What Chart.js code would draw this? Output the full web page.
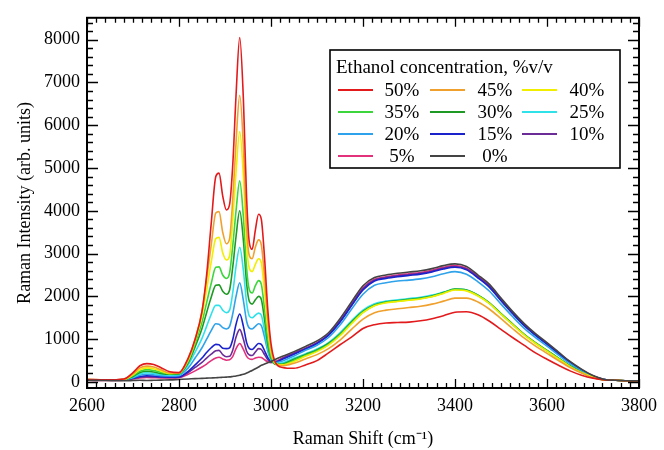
<!DOCTYPE html>
<html>
<head>
<meta charset="utf-8">
<script src="https://cdn.jsdelivr.net/npm/chart.js@4/dist/chart.umd.min.js"></script>
<style>
  html, body { margin: 0; padding: 0; background: #fff; }
  #wrap { width: 664px; height: 450px; position: relative; }
</style>
</head>
<body>
<div id="wrap"><canvas id="c" width="664" height="450"></canvas></div>
<script>
// Raman shift sample positions (cm^-1)
const ramanShift = [2600, 2640, 2680, 2700, 2715, 2730, 2745, 2760, 2780, 2800,
  2820, 2835, 2850, 2860, 2870, 2880, 2887, 2895, 2903, 2910,
  2917, 2924, 2932, 2940, 2947, 2953, 2959, 2966, 2973, 2979,
  2986, 2993, 3000, 3010, 3025, 3050, 3075, 3100, 3125, 3150,
  3175, 3200, 3225, 3250, 3275, 3300, 3325, 3350, 3375, 3400,
  3425, 3450, 3475, 3500, 3525, 3550, 3575, 3600, 3625, 3650,
  3675, 3700, 3725, 3750, 3775, 3800];

const labels = ["50%", "45%", "40%", "35%", "30%", "25%", "20%", "15%", "10%", "5%", "0%"];

const eth50 = [60, 50, 70, 220, 380, 430, 410, 340, 240, 220,
  560, 1000, 1650, 2500, 3700, 4800, 4880, 4350, 4020, 4150,
  5100, 6700, 8050, 6600, 4300, 3250, 3100, 3550, 3920, 3800,
  2900, 1700, 900, 450, 340, 320, 400, 500, 680, 870,
  1050, 1250, 1340, 1380, 1390, 1400, 1430, 1480, 1550, 1630,
  1640, 1570, 1420, 1230, 1040, 860, 680, 530, 390, 260,
  160, 90, 50, 40, 30, 30];
const eth45 = [60, 50, 65, 190, 330, 370, 350, 290, 210, 210,
  540, 1000, 1650, 2400, 3200, 3950, 3980, 3500, 3230, 3350,
  4300, 5600, 6700, 5500, 3600, 2950, 2880, 3150, 3320, 3200,
  2450, 1450, 780, 430, 380, 440, 540, 640, 780, 980,
  1230, 1470, 1620, 1680, 1710, 1740, 1770, 1820, 1890, 1960,
  1960, 1870, 1700, 1480, 1250, 1030, 840, 670, 500, 340,
  210, 100, 50, 40, 30, 30];
const eth40 = [55, 50, 60, 170, 290, 330, 310, 260, 200, 210,
  510, 960, 1550, 2150, 2800, 3350, 3380, 3020, 2850, 2950,
  3800, 4900, 5850, 4800, 3200, 2650, 2580, 2750, 2880, 2780,
  2100, 1250, 700, 430, 400, 480, 600, 710, 860, 1080,
  1360, 1620, 1780, 1850, 1880, 1910, 1940, 1990, 2070, 2150,
  2130, 2010, 1830, 1580, 1340, 1100, 900, 720, 540, 360,
  220, 110, 50, 40, 30, 30];
const eth35 = [55, 45, 60, 150, 250, 290, 270, 230, 190, 200,
  480, 900, 1400, 1850, 2300, 2680, 2690, 2500, 2420, 2550,
  3200, 4000, 4700, 3850, 2650, 2150, 2080, 2250, 2370, 2280,
  1700, 1000, 600, 420, 410, 510, 620, 730, 880, 1100,
  1380, 1630, 1790, 1860, 1890, 1920, 1950, 2000, 2080, 2160,
  2140, 2020, 1840, 1590, 1350, 1110, 910, 730, 550, 370,
  220, 110, 50, 40, 30, 30];
const eth30 = [50, 45, 55, 130, 220, 250, 235, 200, 180, 190,
  450, 820, 1250, 1620, 1980, 2260, 2270, 2120, 2050, 2150,
  2700, 3400, 4000, 3300, 2300, 1880, 1820, 1920, 2000, 1930,
  1450, 880, 560, 410, 420, 530, 640, 750, 900, 1120,
  1400, 1650, 1800, 1870, 1900, 1930, 1960, 2010, 2090, 2170,
  2150, 2030, 1850, 1600, 1360, 1120, 920, 740, 560, 380,
  230, 110, 50, 40, 30, 30];
const eth25 = [50, 45, 55, 115, 190, 215, 200, 175, 160, 170,
  400, 700, 1020, 1300, 1580, 1790, 1790, 1680, 1620, 1680,
  2100, 2700, 3150, 2600, 1850, 1540, 1500, 1560, 1610, 1560,
  1200, 780, 530, 430, 450, 560, 660, 770, 920, 1150,
  1430, 1680, 1830, 1890, 1920, 1950, 1980, 2030, 2100, 2170,
  2150, 2020, 1840, 1590, 1350, 1110, 910, 730, 550, 380,
  230, 110, 50, 40, 30, 30];
const eth20 = [50, 40, 50, 100, 160, 180, 170, 150, 140, 150,
  330, 560, 800, 1000, 1200, 1360, 1350, 1270, 1240, 1300,
  1600, 2000, 2320, 1900, 1420, 1260, 1240, 1300, 1360, 1320,
  1050, 720, 520, 450, 490, 610, 740, 860, 1040, 1330,
  1700, 2050, 2260, 2320, 2360, 2380, 2410, 2460, 2530, 2580,
  2520, 2340, 2120, 1820, 1530, 1260, 1040, 840, 630, 430,
  260, 130, 60, 40, 30, 30];
const eth15 = [45, 40, 50, 90, 130, 145, 140, 125, 115, 120,
  250, 400, 560, 690, 800, 880, 870, 790, 780, 800,
  1000, 1350, 1590, 1300, 920, 780, 760, 830, 900, 880,
  730, 570, 480, 460, 530, 650, 770, 900, 1090, 1400,
  1780, 2150, 2360, 2420, 2460, 2490, 2520, 2570, 2640, 2680,
  2620, 2430, 2210, 1900, 1600, 1320, 1090, 880, 660, 450,
  270, 130, 60, 40, 30, 30];
const eth10 = [45, 40, 50, 80, 115, 125, 120, 110, 105, 110,
  220, 340, 460, 560, 650, 730, 740, 640, 590, 600,
  750, 1050, 1230, 1000, 720, 630, 620, 700, 780, 760,
  640, 520, 460, 470, 550, 670, 780, 910, 1100, 1410,
  1800, 2180, 2380, 2440, 2480, 2510, 2540, 2590, 2660, 2700,
  2640, 2450, 2230, 1910, 1610, 1330, 1100, 890, 670, 460,
  280, 140, 60, 40, 30, 30];
const eth5 = [40, 35, 45, 70, 95, 105, 100, 95, 95, 100,
  180, 260, 350, 420, 500, 560, 580, 540, 510, 520,
  600, 780, 900, 760, 600, 540, 530, 560, 580, 570,
  520, 470, 450, 480, 560, 680, 790, 920, 1110, 1430,
  1820, 2200, 2400, 2460, 2500, 2530, 2560, 2610, 2680, 2720,
  2660, 2470, 2250, 1930, 1630, 1350, 1110, 900, 680, 470,
  290, 140, 60, 40, 30, 30];
const eth0 = [40, 35, 30, 35, 40, 35, 40, 45, 50, 60,
  70, 80, 85, 90, 95, 100, 105, 110, 115, 120,
  130, 140, 160, 180, 210, 240, 270, 310, 350, 390,
  420, 450, 480, 530, 600, 710, 830, 960, 1150, 1480,
  1870, 2250, 2440, 2500, 2540, 2570, 2600, 2650, 2720, 2760,
  2700, 2500, 2280, 1960, 1650, 1370, 1130, 920, 700, 480,
  300, 150, 60, 40, 30, 30];

const seriesValues = [eth50, eth45, eth40, eth35, eth30, eth25, eth20, eth15, eth10, eth5, eth0];
const colors = ["#e31a1c", "#f0a02c", "#f2ee00", "#3cd63c", "#1e9a24", "#2fe2ea",
  "#2ea2ea", "#1a22cc", "#6b2c98", "#e2327c", "#444444"];

const xTicks = [2600, 2800, 3000, 3200, 3400, 3600, 3800];
const yTicks = [0, 1000, 2000, 3000, 4000, 5000, 6000, 7000, 8000];

const FONT = "'Liberation Serif', 'Times New Roman', serif";

const datasets = seriesValues.map((vals, i) => ({
  label: labels[i],
  data: ramanShift.map((x, j) => ({ x: x, y: vals[j] })),
  borderColor: colors[i],
  backgroundColor: colors[i],
  borderWidth: 1.6,
  pointRadius: 0,
  cubicInterpolationMode: 'monotone',
  fill: false,
  order: labels[i] === "0%" ? 0 : 1
}));

const frameTicks = {
  id: 'frameTicks',
  afterDatasetsDraw(chart) {
    const { ctx, chartArea: a, scales } = chart;
    const xs = scales.x, ys = scales.y;
    ctx.save();
    ctx.strokeStyle = '#000';
    ctx.lineWidth = 1.3;
    ctx.beginPath();
    for (let v = 2600; v <= 3800; v += 20) {
      const px = Math.round(xs.getPixelForValue(v)) + 0.5;
      const len = (v % 200 === 0) ? 9 : 5;
      ctx.moveTo(px, a.bottom); ctx.lineTo(px, a.bottom - len);
      ctx.moveTo(px, a.top); ctx.lineTo(px, a.top + len);
    }
    for (let v = 0; v <= 8400; v += 200) {
      const py = Math.round(ys.getPixelForValue(v)) + 0.5;
      if (py < a.top || py > a.bottom) continue;
      const len = (v % 1000 === 0) ? 11 : 6;
      ctx.moveTo(a.left, py); ctx.lineTo(a.left + len, py);
      ctx.moveTo(a.right, py); ctx.lineTo(a.right - len, py);
    }
    ctx.stroke();
    ctx.lineWidth = 2;
    ctx.strokeRect(a.left, a.top, a.right - a.left, a.bottom - a.top);
    ctx.restore();
  }
};

const boxLegend = {
  id: 'boxLegend',
  afterDraw(chart) {
    const ctx = chart.ctx;
    ctx.save();
    ctx.fillStyle = '#fff';
    ctx.fillRect(330, 50, 290, 118);
    ctx.strokeStyle = '#000';
    ctx.lineWidth = 1.6;
    ctx.strokeRect(330, 50, 290, 118);
    ctx.fillStyle = '#000';
    ctx.font = "19px " + FONT;
    ctx.textBaseline = 'middle';
    ctx.textAlign = 'left';
    ctx.fillText("Ethanol concentration, %v/v", 336, 68);
    const lineX = [338, 430, 522];
    const textX = [402, 495, 587];
    const rowY = [90, 112, 134, 156];
    chart.data.datasets.forEach((ds, i) => {
      const r = Math.floor(i / 3), c = i % 3;
      ctx.strokeStyle = ds.borderColor;
      ctx.lineWidth = 2;
      ctx.beginPath();
      ctx.moveTo(lineX[c], rowY[r]);
      ctx.lineTo(lineX[c] + 35, rowY[r]);
      ctx.stroke();
      ctx.fillStyle = '#000';
      ctx.textAlign = 'center';
      ctx.fillText(ds.label, textX[c], rowY[r] + 1);
    });
    ctx.restore();
  }
};

new Chart(document.getElementById('c'), {
  type: 'line',
  data: { datasets: datasets },
  plugins: [frameTicks, boxLegend],
  options: {
    responsive: false,
    animation: false,
    layout: { padding: { top: 13, right: 19, left: 0, bottom: 0 } },
    plugins: { legend: { display: false }, tooltip: { enabled: false } },
    scales: {
      x: {
        type: 'linear',
        min: 2600, max: 3800,
        grid: { display: false, drawTicks: false },
        border: { display: false },
        afterBuildTicks: s => { s.ticks = xTicks.map(v => ({ value: v })); },
        afterFit: s => { s.height = 62; },
        ticks: { color: '#000', font: { family: FONT, size: 18 }, padding: 7, maxRotation: 0,
                 callback: v => String(v) },
        title: { display: true, text: 'Raman Shift (cm\u207B\u00B9)', color: '#000',
                 font: { family: FONT, size: 18 }, padding: { top: 0, bottom: 0 } }
      },
      y: {
        type: 'linear',
        min: -140, max: 8510,
        grid: { display: false, drawTicks: false },
        border: { display: false },
        afterBuildTicks: s => { s.ticks = yTicks.map(v => ({ value: v })); },
        afterFit: s => { s.width = 87; },
        ticks: { color: '#000', font: { family: FONT, size: 18 }, padding: 7,
                 callback: v => String(v) },
        title: { display: true, text: 'Raman Intensity (arb. units)', color: '#000',
                 font: { family: FONT, size: 18 }, padding: { top: 14, bottom: 0 } }
      }
    }
  }
});
</script>
</body>
</html>
